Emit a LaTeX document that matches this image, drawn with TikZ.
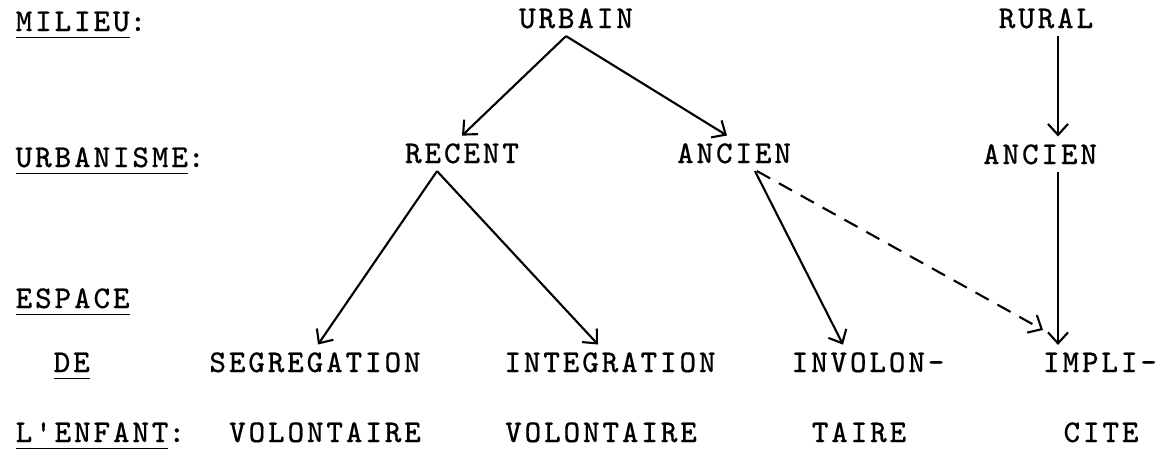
\documentclass[tikz,border=0pt]{standalone}
\usepackage{fontspec}
\setmonofont[LetterSpace=9,FakeBold=0.4]{Latin Modern Mono}
\usetikzlibrary{arrows.meta}

% typed underline, sitting a little below the baseline
\newcommand\ulabel[1]{\underline{#1\rule[-0.5pt]{0pt}{0pt}}}

\begin{document}
\begin{tikzpicture}[
  font=\ttfamily\fontsize{9}{10}\selectfont,
  lbl/.style={anchor=base west, inner sep=0pt},
  term/.style={anchor=base, inner sep=2pt},
  arr/.style={-{Straight Barb[length=1.1mm,width=2mm]}, line width=0.6pt},
  dsh/.style={arr, dash pattern=on 1.5mm off 1mm}
]
  \useasboundingbox (0,0) rectangle (11.61,-4.55);

  % row labels on the left
  \node[lbl] (milieu) at (0.15,-0.31) {\ulabel{MILIEU}:};
  \node[lbl] (urbanisme) at (0.15,-1.67) {\ulabel{URBANISME}:};
  \node[lbl] (espace) at (0.15,-3.08) {\ulabel{ESPACE}};
  \node[lbl] (de) at (0.53,-3.72) {\ulabel{DE}};
  \node[lbl] (enfant) at (0.15,-4.42) {\ulabel{L'ENFANT}:};

  % milieu / urbanisme
  \node[term] (urbain) at (5.76,-0.28) {URBAIN};
  \node[term] (rural) at (10.46,-0.28) {RURAL};
  \node[term] (recent) at (4.62,-1.63) {RECENT};
  \node[term] (ancien) at (7.34,-1.63) {ANCIEN};
  \node[term] (ancienr) at (10.40,-1.64) {ANCIEN};

  % espace de l'enfant, two lines each
  \node[term] (segr) at (3.15,-3.72) {SEGREGATION};
  \node[term] (volsegr) at (3.25,-4.42) {VOLONTAIRE};
  \node[term] (integr) at (6.10,-3.72) {INTEGRATION};
  \node[term] (volintegr) at (6.01,-4.42) {VOLONTAIRE};
  \node[term] (invol) at (8.68,-3.72) {INVOLON-};
  \node[term] (taire) at (8.59,-4.42) {TAIRE};
  \node[term] (impli) at (11.00,-3.72) {IMPLI-};
  \node[term] (cite) at (11.01,-4.42) {CITE};

  \draw[arr] ([xshift=-1mm]urbain.south) -- (recent.north);
  \draw[arr] ([xshift=-1mm]urbain.south) -- ([xshift=-0.7mm]ancien.north);
  \draw[arr] ([xshift=1.2mm]rural.south) -- ([xshift=1.2mm]rural.south |- ancienr.north);

  \draw[arr] ([xshift=-2.5mm]recent.south) -- ([xshift=0.3mm]segr.north);
  \draw[arr] ([xshift=-2.5mm]recent.south) -- ([xshift=-1.2mm]integr.north);
  \draw[arr] ([xshift=2.1mm]ancien.south) -- ([xshift=-2.5mm]invol.north);
  \draw[dsh] ([xshift=2.3mm]ancien.south) -- ([xshift=-5.7mm,yshift=1.5mm]impli.north);
  \draw[arr] ([xshift=1.2mm]rural.south |- ancienr.south) -- ([xshift=1.2mm]rural.south |- impli.north);
\end{tikzpicture}
\end{document}
